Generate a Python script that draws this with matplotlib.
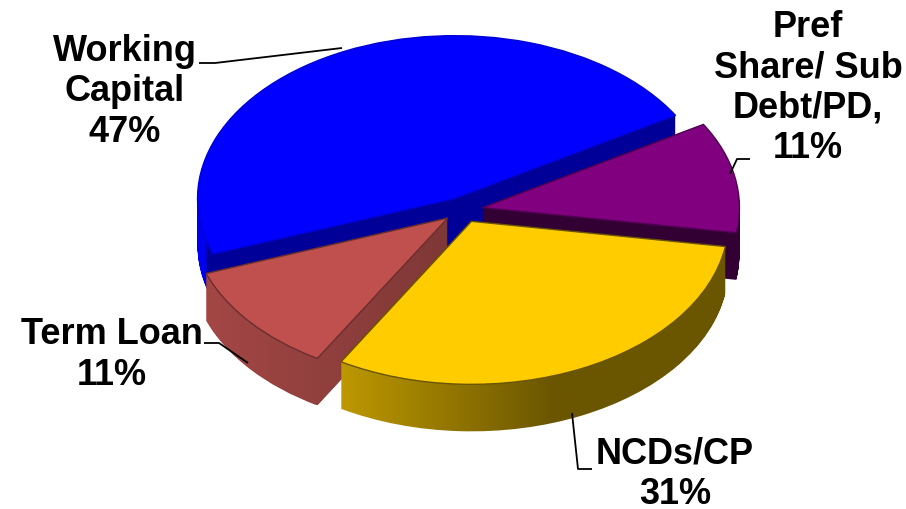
"""Exploded 3D-look funding mix pie."""

import matplotlib
matplotlib.use("Agg")
import matplotlib.pyplot as plt
import numpy as np
from matplotlib.path import Path

plt.rcParams["font.family"] = ["Liberation Sans", "DejaVu Sans"]

categories = ["Working\nCapital", "Term Loan", "NCDs/CP", "Pref\nShare/ Sub\nDebt/PD,"]
shares = [47, 11, 31, 11]
top_colors = ["#0000ff", "#c0504d", "#ffcc00", "#800080"]
side_left = ["#0000f0", "#a34745", "#bd9800", "#330033"]
side_right = ["#000099", "#7e3836", "#6b5600", "#330033"]
edge_colors = ["#0000d0", "#6a2e2c", "#6a5500", "#500050"]
# wall colour holds until ramp_start, then reaches side_right at ramp_end (slice width fractions)
ramp_start = [0.028, 0.0, 0.0, 0.0]
ramp_end = [0.034, 1.0, 0.55, 1.0]

W, H = 906, 510
CX, CY = 463, 211   # pie centre, pixels
RX, RY = 257, 163   # ellipse radii, pixels
DEPTH = 47          # extrusion, pixels
START = 30.7
EXPLODE = 0.077
# back-to-front painting order (slice index)
PAINT_ORDER = [0, 3, 1, 2]

fig = plt.figure(figsize=(W / 100, H / 100), dpi=100)
ax = fig.add_axes([0, 0, 1, 1])
explode = [EXPLODE] * len(shares)


def pie_paths(dy):
    wedges, _ = ax.pie(shares, startangle=START, explode=explode, center=(0, dy),
                       radius=1)
    paths = [w.get_path() for w in wedges]
    for w in wedges:
        w.remove()
    return paths


# side walls: stack of shifted pies merged per slice
layers = [pie_paths(-d / RY) for d in range(1, DEPTH + 1)]
top_paths = pie_paths(0)

xlim = (-CX / RX, (W - CX) / RX)
ylim = ((CY - H) / RY, CY / RY)

for rank, i in enumerate(PAINT_ORDER):
    base = rank * 10
    compound = Path.make_compound_path(*[layer[i] for layer in layers])
    c0 = np.array(matplotlib.colors.to_rgb(side_left[i]))
    c1 = np.array(matplotlib.colors.to_rgb(side_right[i]))
    x0, x1 = compound.vertices[:, 0].min(), compound.vertices[:, 0].max()
    y0, y1 = compound.vertices[:, 1].min(), compound.vertices[:, 1].max()
    t = np.linspace(0, 1, 512)
    t = np.clip((t - ramp_start[i]) / (ramp_end[i] - ramp_start[i]), 0, 1)
    grad = (c0[None, :] * (1 - t)[:, None] + c1[None, :] * t[:, None])[None, :, :]
    im = ax.imshow(grad, extent=(x0, x1, y0, y1), aspect="auto", zorder=base,
                   interpolation="bilinear")
    im.set_clip_path(compound, transform=ax.transData)

    # top face
    patch = matplotlib.patches.PathPatch(top_paths[i], facecolor=top_colors[i],
                                         edgecolor=edge_colors[i], linewidth=1.0,
                                         zorder=base + 1)
    ax.add_patch(patch)

ax.set_aspect("auto")
ax.set_xlim(*xlim)
ax.set_ylim(*ylim)
ax.axis("off")


def px(x, y):
    return (x - CX) / RX, (CY - y) / RY


# labels
labels = [f"{c}\n{s}%" for c, s in zip(categories, shares)]
label_pos = [(125, 92), (112, 355), (675, 474), (808, 88)]
for text, (x, y) in zip(labels, label_pos):
    ax.text(*px(x, y), text, ha="center", va="center", fontsize=26, fontweight="bold",
            color="black", linespacing=1.2, zorder=100, clip_on=False)

# leader lines
leaders = [
    [(199, 64), (215, 64), (342, 49)],
    [(204, 344), (219, 344), (248, 364)],
    [(592, 470), (578, 470), (572, 414)],
    [(750, 160), (737, 160), (730, 175)],
]
for pts in leaders:
    xy = np.array([px(*p) for p in pts])
    ax.plot(xy[:, 0], xy[:, 1], color="black", lw=1.3, zorder=90, solid_capstyle="butt")

fig.savefig("out.png", dpi=100)
